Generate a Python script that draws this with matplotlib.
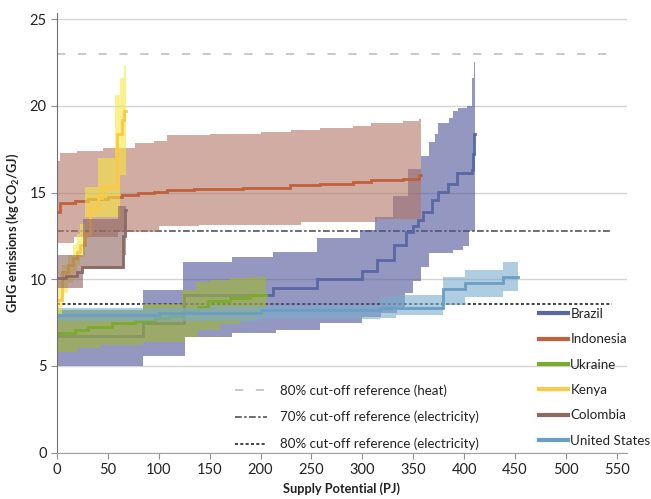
import numpy as np
import matplotlib.pyplot as plt
from matplotlib.lines import Line2D

plt.rcParams['font.family'] = ['Lato', 'DejaVu Sans']

# Supply curves: every curve is a step function, given as the x where each
# step starts (PJ) and the emission value held from there on (kg CO2/GJ).
# "_end" is the total supply potential where the curve stops.

brazil_end = 411
brazil_mid_x = [0, 84, 125, 212, 255, 300, 314, 331, 343, 350, 355, 360, 368, 374, 384, 393, 408, 409, 410]
brazil_mid = [6.75, 7.5, 9.1, 9.5, 10.0, 10.45, 11.1, 12.0, 12.7, 13.05, 13.4, 13.9, 14.6, 15.05, 15.5, 16.1, 16.3, 17.2, 18.4]
brazil_lo_x = [0, 84, 126, 172, 215, 258, 300, 318, 334, 342, 350, 358, 366, 389, 399, 405]
brazil_lo = [5.0, 5.55, 6.7, 6.9, 7.1, 7.5, 7.8, 8.05, 8.4, 9.2, 9.9, 10.7, 11.5, 11.7, 11.9, 12.8]
brazil_hi_x = [0, 84, 124, 172, 212, 255, 298, 312, 330, 345, 358, 366, 371, 374, 385, 389, 394, 403, 408, 410]
brazil_hi = [8.2, 9.4, 11.0, 11.3, 11.6, 12.4, 12.85, 13.6, 14.8, 16.35, 17.1, 17.9, 18.4, 19.0, 19.3, 19.7, 19.9, 20.0, 21.6, 22.5]

indonesia_end = 358
indonesia_mid_x = [0, 3, 18, 30, 50, 64, 80, 95, 108, 135, 183, 229, 258, 291, 309, 340, 356]
indonesia_mid = [13.9, 14.4, 14.5, 14.65, 14.75, 14.85, 14.95, 15.05, 15.15, 15.2, 15.26, 15.43, 15.52, 15.63, 15.73, 15.8, 16.0]
indonesia_lo_x = [0, 17, 60, 100, 140, 240, 314]
indonesia_lo = [12.1, 12.45, 12.75, 13.05, 13.15, 13.3, 13.5]
indonesia_hi_x = [0, 3, 20, 45, 77, 95, 108, 150, 200, 230, 258, 291, 309, 340, 356]
indonesia_hi = [16.8, 17.3, 17.4, 17.55, 17.85, 18.0, 18.3, 18.4, 18.5, 18.6, 18.7, 18.85, 19.0, 19.1, 19.25]

ukraine_end = 205
ukraine_mid_x = [0, 18, 30, 54, 77, 96, 110, 123, 139, 148, 170, 190]
ukraine_mid = [6.9, 7.07, 7.27, 7.45, 7.6, 7.77, 7.9, 8.1, 8.4, 8.75, 8.9, 9.1]
ukraine_lo_x = [0, 20, 42, 84, 126, 139, 160, 180, 195]
ukraine_lo = [5.83, 6.04, 6.2, 6.4, 6.7, 7.05, 7.4, 7.65, 7.85]
ukraine_hi_x = [0, 84, 123, 137, 150, 170, 190]
ukraine_hi = [8.2, 8.6, 9.4, 9.85, 9.95, 10.05, 10.15]

kenya_end = 68
kenya_mid_x = [0, 5, 11, 16, 20, 23, 27.5, 32.5, 40, 44, 59, 64, 65.5]
kenya_mid = [8.8, 10.4, 10.8, 11.2, 11.6, 12.0, 12.6, 14.1, 14.7, 15.3, 18.4, 19.2, 19.7]
kenya_lo_x = [0, 5, 11, 16, 20, 23, 27.5, 62]
kenya_lo = [8.0, 9.2, 9.8, 10.3, 10.8, 11.3, 13.6, 16.0]
kenya_hi_x = [0, 5, 11, 16, 20, 23, 27.5, 40, 57, 62, 66]
kenya_hi = [9.9, 10.8, 11.4, 12.0, 12.6, 13.2, 15.3, 17.0, 20.6, 21.6, 22.3]

colombia_end = 68
colombia_mid_x = [0, 9, 20, 25, 65, 66.5]
colombia_mid = [10.1, 10.2, 10.4, 10.7, 12.5, 14.0]
colombia_lo_x = [0, 26, 65]
colombia_lo = [9.5, 10.6, 11.4]
colombia_hi_x = [0, 26, 60]
colombia_hi = [11.4, 13.5, 14.2]

us_end = 453
us_mid_x = [0, 100, 200, 317, 379, 401, 438]
us_mid = [7.95, 8.05, 8.2, 8.35, 9.45, 9.8, 10.15]
us_lo_x = [0, 200, 317, 333, 379, 401, 438]
us_lo = [7.6, 7.7, 7.75, 7.95, 8.5, 9.0, 9.3]
us_hi_x = [0, 150, 250, 317, 333, 379, 401, 438]
us_hi = [8.35, 8.45, 8.5, 9.0, 9.1, 10.15, 10.55, 11.0]

# cut-off references (kg CO2/GJ)
ref_labels = ['80% cut-off reference (heat)',
              '70% cut-off reference (electricity)',
              '80% cut-off reference (electricity)']
ref_levels = [23.0, 12.8, 8.6]
ref_end = 545

x_ticks = np.arange(0, 551, 50)
y_ticks = np.arange(0, 26, 5)


def step_values(xs, ys, grid):
    idx = np.searchsorted(xs, grid, side='right') - 1
    return np.asarray(ys)[idx]


def draw_curve(ax, end, mid_x, mid, lo_x, lo, hi_x, hi, line_color, fill_color):
    grid = np.union1d(np.union1d(mid_x, lo_x), hi_x)
    edges = np.append(grid, end)
    lo_v = step_values(lo_x, lo, grid)
    hi_v = step_values(hi_x, hi, grid)
    ax.fill_between(edges, np.append(lo_v, lo_v[-1]), np.append(hi_v, hi_v[-1]),
                    step='post', color=fill_color, alpha=0.6, lw=0, zorder=2)
    ax.step(np.append(mid_x, end), np.append(mid, mid[-1]), where='post',
            color=line_color, lw=2.0, zorder=2, solid_joinstyle='miter')


fig = plt.figure(figsize=(6.51, 4.99), dpi=100)
ax = fig.add_axes([0.0876, 0.0928, 0.8754, 0.881])

series = [
    ('Brazil', brazil_end, brazil_mid_x, brazil_mid, brazil_lo_x, brazil_lo, brazil_hi_x, brazil_hi, '#5a67a5', '#4d5396'),
    ('Indonesia', indonesia_end, indonesia_mid_x, indonesia_mid, indonesia_lo_x, indonesia_lo, indonesia_hi_x, indonesia_hi, '#c0603c', '#b17564'),
    ('Ukraine', ukraine_end, ukraine_mid_x, ukraine_mid, ukraine_lo_x, ukraine_lo, ukraine_hi_x, ukraine_hi, '#7aab2c', '#a3b72f'),
    ('United States', us_end, us_mid_x, us_mid, us_lo_x, us_lo, us_hi_x, us_hi, '#6b9ec4', '#7aaccd'),
    ('Kenya', kenya_end, kenya_mid_x, kenya_mid, kenya_lo_x, kenya_lo, kenya_hi_x, kenya_hi, '#fdc843', '#f7e63f'),
    ('Colombia', colombia_end, colombia_mid_x, colombia_mid, colombia_lo_x, colombia_lo, colombia_hi_x, colombia_hi, '#8a6a62', '#8c645f'),
]
line_colors = {}
for name, end, mx, m, lx, l, hx, h, lc, fc in series:
    draw_curve(ax, end, mx, m, lx, l, hx, h, lc, fc)
    line_colors[name] = lc

# reference lines sit under the bands
ref_styles = [
    dict(color='#c8c8c8', lw=1.4, linestyle=(0, (4.2, 6.5))),
    dict(color='#6e6e6e', lw=1.4, linestyle=(0, (3.5, 1.2, 1.3, 1.2))),
    dict(color='#222222', lw=1.2, linestyle=(0, (1.8, 1.4))),
]
ref_handles = []
for lvl, st in zip(ref_levels, ref_styles):
    ax.plot([0, ref_end], [lvl, lvl], zorder=1, **st)
    ref_handles.append(Line2D([], [], **st))

ax.set_xlim(0, 560)
ax.set_ylim(0, 25.35)
ax.set_xticks(x_ticks)
ax.set_yticks(y_ticks)
ax.yaxis.grid(True, color='#d4d4d4', lw=1.0)
ax.set_axisbelow(True)
for s in ['top', 'right']:
    ax.spines[s].set_visible(False)
ax.spines['left'].set_color('#707070')
ax.spines['bottom'].set_color('#a0a0a0')
ax.tick_params(axis='both', colors='#909090', labelcolor='#222222', labelsize=10.5, length=4)

ax.set_xlabel('Supply Potential (PJ)', fontsize=9.2, fontweight='bold', color='#222222', labelpad=4)
ax.set_ylabel(r'GHG emissions (kg CO$_\mathregular{2}$/GJ)', fontsize=9.2, fontweight='bold',
              color='#222222', labelpad=6)

legend_order = ['Brazil', 'Indonesia', 'Ukraine', 'Kenya', 'Colombia', 'United States']
handles = [Line2D([], [], color=line_colors[n], lw=3) for n in legend_order]
leg1 = fig.legend(handles, legend_order, loc='upper left', bbox_to_anchor=(539 / 651, 1 - 308 / 499),
                  frameon=False, fontsize=9.6, handlelength=2.2, handletextpad=0.15,
                  labelspacing=1.0, borderpad=0, borderaxespad=0)
for t in leg1.get_texts():
    t.set_color('#222222')
leg2 = fig.legend(ref_handles, ref_labels, loc='upper left', bbox_to_anchor=(235 / 651, 1 - 384 / 499),
                  frameon=False, fontsize=9.6, handlelength=2.4, handletextpad=0.95,
                  labelspacing=1.08, borderpad=0, borderaxespad=0)
for t in leg2.get_texts():
    t.set_color('#222222')

fig.savefig('out.png', dpi=100)
